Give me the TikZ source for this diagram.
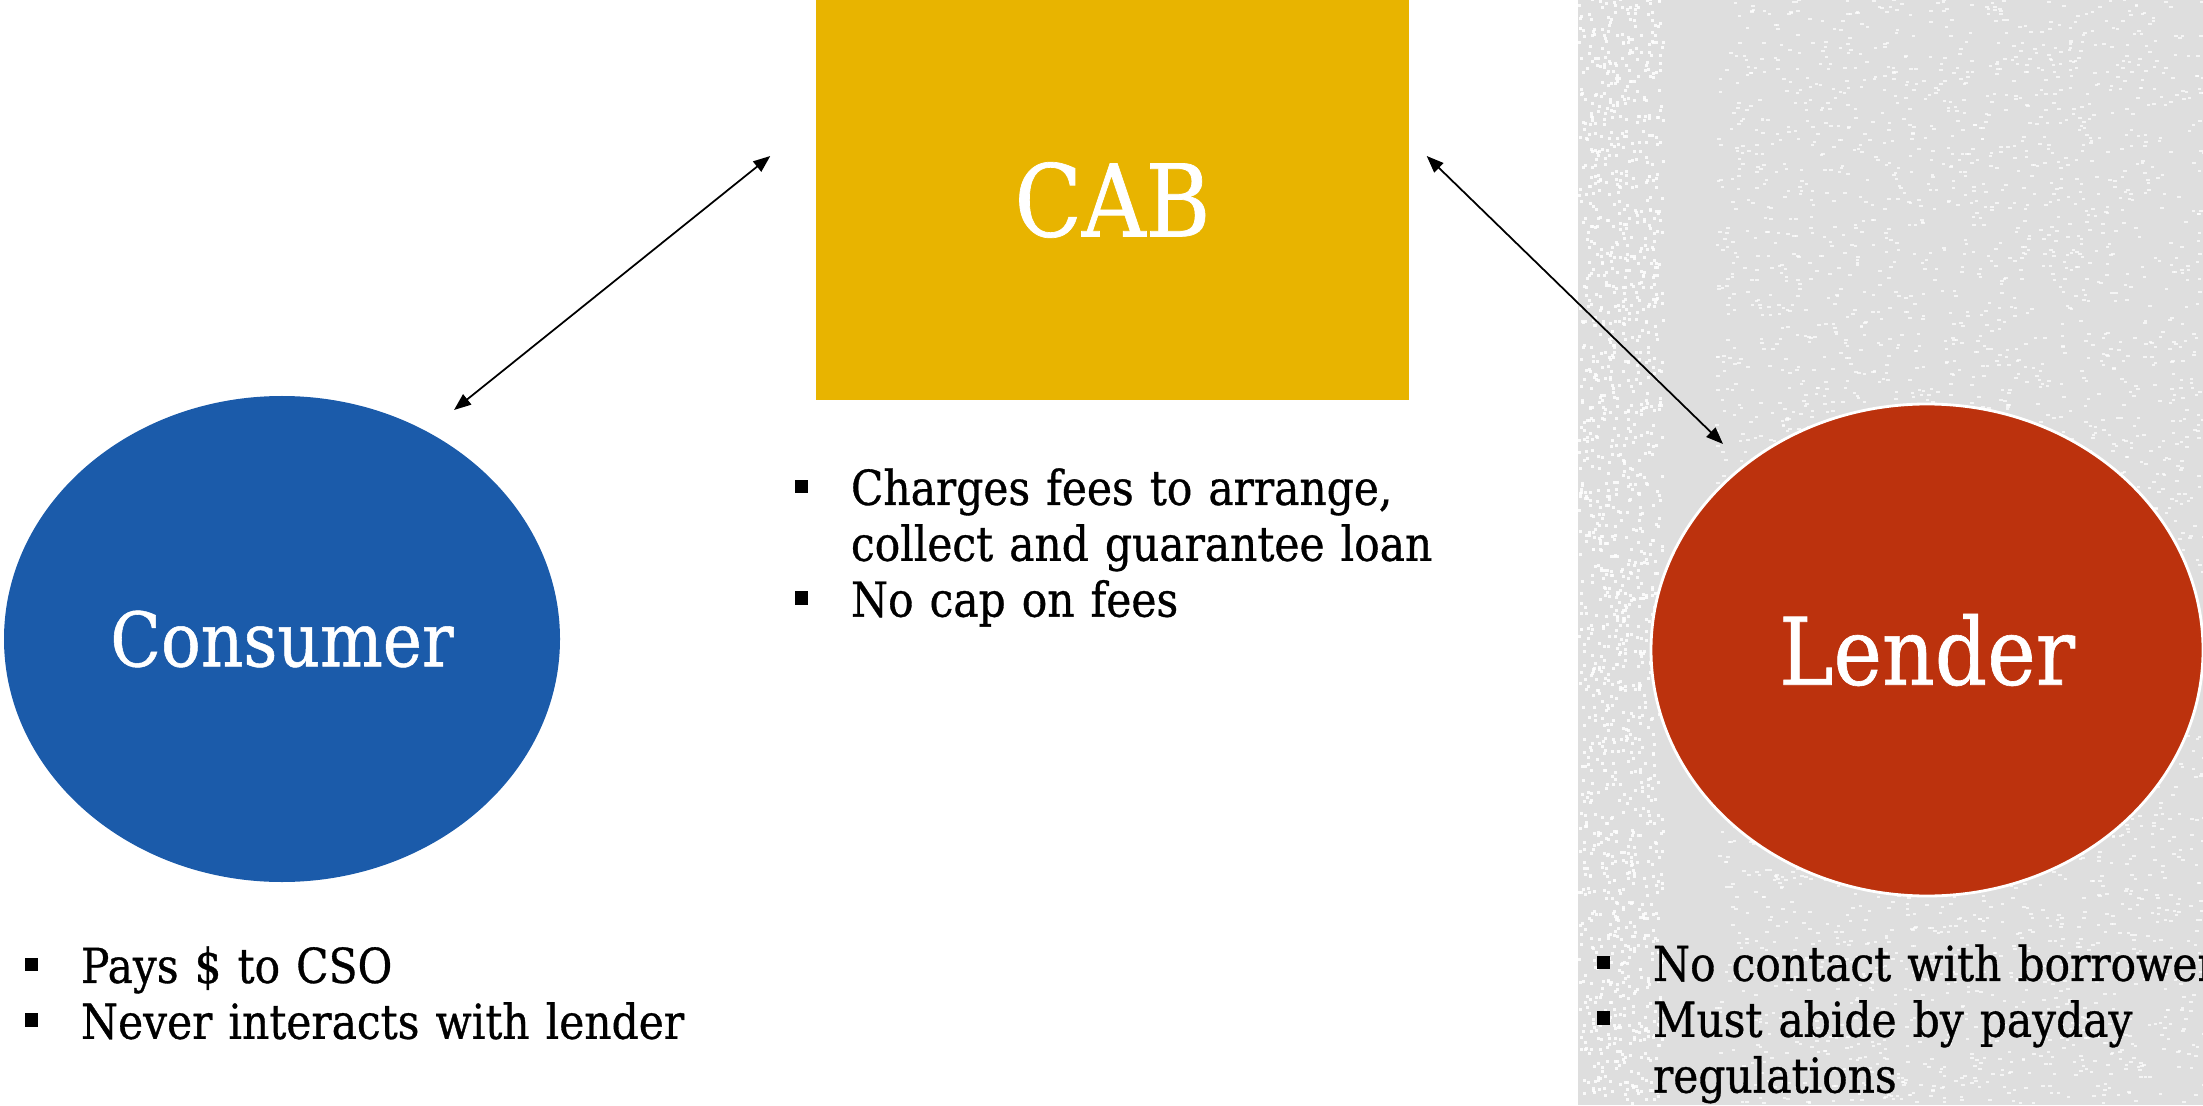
\documentclass[tikz,border=0pt]{standalone}
\usepackage{fontspec}
\setmainfont{DejaVu Serif}[FakeStretch=0.88, FakeBold=0.7]
\usetikzlibrary{arrows.meta, positioning, shapes.geometric, calc}
\definecolor{cabgold}{HTML}{E8B400}
\definecolor{consumerblue}{HTML}{1B5BAA}
\definecolor{lenderred}{HTML}{BC320D}
\definecolor{panelgrey}{HTML}{DEDEDE}

\begin{document}
\begin{tikzpicture}[
    >={Triangle[length=1.7mm,width=1.3mm]},
    party/.style={ellipse, inner sep=0pt, text=white},
    link/.style={<->, black, line width=0.5pt},
    notes/.style={anchor=north west, inner sep=0pt, outer sep=0pt, text width=9cm, font=\fontsize{13.7}{15.9}\selectfont},
]

\newcommand{\bitem}{\par\noindent\hangindent=0.56cm\hangafter=1\makebox[0.56cm][l]{\raisebox{3.4pt}{\rule{3.6pt}{3.8pt}}}}

\useasboundingbox (0,0) rectangle (22.03,11.05);
\clip (0,0) rectangle (22.03,11.05);

% ================= GREY PANEL (right) =================
\fill[panelgrey] (15.78,0) rectangle (22.03,11.05);
\pgfmathsetseed{7}
\foreach \k in {1,...,1500} {
    \pgfmathsetmacro{\sx}{15.78+0.84*rnd}
    \pgfmathsetmacro{\sy}{11.05*rnd}
    \fill[white, opacity=0.85] (\sx,\sy) rectangle ++(0.03,0.03);
}
\foreach \k in {1,...,3500} {
    \pgfmathsetmacro{\sx}{17.15+4.88*rnd}
    \pgfmathsetmacro{\sy}{11.05*rnd}
    \fill[white, opacity=0.7] (\sx,\sy) rectangle ++(0.035,0.02);
}

% ================= PARTIES =================
\node[fill=cabgold, text=white, inner sep=0pt, minimum width=5.93cm, minimum height=4.0cm, font=\fontsize{28.5}{32}\selectfont] (cab) at (11.125,9.05) {CAB};
\node[party, fill=consumerblue, minimum width=5.56cm, minimum height=4.86cm, font=\fontsize{21.4}{24}\selectfont] (consumer) at (2.82,4.66) {Consumer};
\node[party, fill=lenderred, draw=white, line width=0.8pt, minimum width=5.52cm, minimum height=4.92cm, font=\fontsize{26.5}{30}\selectfont] (lender) at (19.27,4.55) {Lender};

\draw[link] ([shift={(1.72,2.29)}]consumer.center) -- ([shift={(-0.45,0.44)}]cab.west);
\draw[link] ([shift={(0.17,0.44)}]cab.east) -- ([shift={(-2.04,2.06)}]lender.center);

% ================= NOTES =================
\node[notes] (cabnotes) at (7.95,6.56) {\bitem Charges fees to arrange,\newline collect and guarantee loan\bitem No cap on fees\par};
\node[notes] (consumernotes) at (0.25,1.78) {\bitem Pays \$ to CSO\bitem Never interacts with lender\par};
\node[notes] (lendernotes) at (15.97,1.80) {\bitem No contact with borrower\bitem Must abide by payday\newline regulations\par};

\end{tikzpicture}
\end{document}
